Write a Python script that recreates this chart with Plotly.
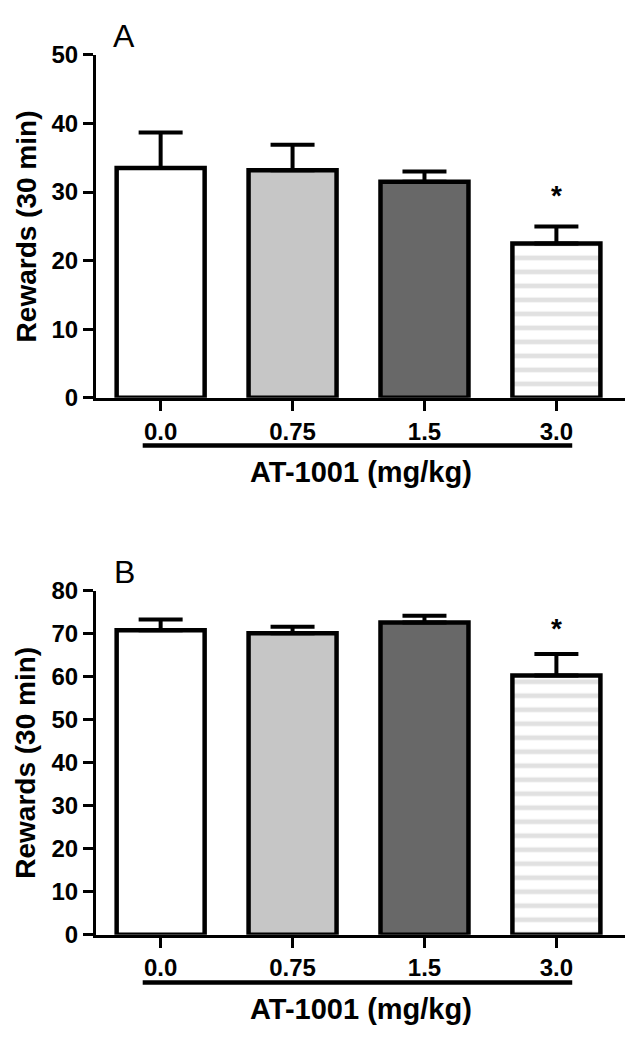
import plotly.graph_objects as go

categories = ["0.0", "0.75", "1.5", "3.0"]
bar_colors = ["#ffffff", "#c6c6c6", "#686868", "#ffffff"]

# Panel A
rewards_a = [33.5, 33.2, 31.5, 22.5]
sem_a = [5.2, 3.7, 1.5, 2.5]
star_a = 30.1

# Panel B
rewards_b = [70.8, 70.1, 72.6, 60.3]
sem_b = [2.5, 1.5, 1.6, 5.0]
star_b = 72.1

x_title = "AT-1001 (mg/kg)"
y_title = "Rewards (30 min)"

FONT = "Liberation Sans, Arial, sans-serif"
xpos = list(range(len(categories)))

fig = go.Figure()


def add_panel(vals, errs, xa, ya):
    # solid bars (first three doses)
    fig.add_trace(go.Bar(
        x=xpos[:3], y=vals[:3], width=0.667,
        xaxis=xa, yaxis=ya,
        marker=dict(color=bar_colors[:3], line=dict(color="black", width=4.5)),
        error_y=dict(type="data", array=errs[:3], arrayminus=[0] * 3,
                     symmetric=False, color="black", thickness=4, width=22),
        showlegend=False, hoverinfo="skip",
    ))
    # striped bar (highest dose)
    fig.add_trace(go.Bar(
        x=xpos[3:], y=vals[3:], width=0.667,
        xaxis=xa, yaxis=ya,
        marker=dict(
            color=bar_colors[3],
            line=dict(color="black", width=4.5),
            pattern=dict(shape="-", fgcolor="#c4c4c4", size=14, solidity=0.34),
        ),
        error_y=dict(type="data", array=errs[3:], arrayminus=[0],
                     symmetric=False, color="black", thickness=4, width=22),
        showlegend=False, hoverinfo="skip",
    ))


add_panel(rewards_a, sem_a, "x", "y")
add_panel(rewards_b, sem_b, "x2", "y2")

W, H = 640, 1048
x_dom = [96 / W, 625 / W]
ya_dom = [(H - 394) / H, (H - 42) / H]
yb_dom = [(H - 945) / H, (H - 592) / H]

common_x = dict(
    range=[-0.49, 3.52], tickvals=xpos, ticktext=categories,
    showline=True, linecolor="black", linewidth=3,
    ticks="outside", ticklen=10, tickwidth=3, tickcolor="black",
    showgrid=False, zeroline=False, fixedrange=True,
    tickfont=dict(family=FONT, size=24, color="black", weight="bold"),
)
common_y = dict(
    showline=True, linecolor="black", linewidth=3,
    ticks="outside", ticklen=10, tickwidth=3, tickcolor="black",
    showgrid=False, zeroline=False, fixedrange=True, dtick=10,
    tickfont=dict(family=FONT, size=24, color="black", weight="bold"),
)

fig.update_layout(
    width=W, height=H,
    margin=dict(l=0, r=0, t=0, b=0),
    paper_bgcolor="white", plot_bgcolor="white",
    barmode="overlay",
    xaxis=dict(domain=x_dom, anchor="y", **common_x),
    yaxis=dict(domain=ya_dom, anchor="x", range=[0, 50], **common_y),
    xaxis2=dict(domain=x_dom, anchor="y2", **common_x),
    yaxis2=dict(domain=yb_dom, anchor="x2", range=[0, 80], **common_y),
)

anns = []
shapes = []
for xr, yr, dom, letter, star in [("x", "y", ya_dom, "A", star_a), ("x2", "y2", yb_dom, "B", star_b)]:
    anns.append(dict(text=y_title, textangle=-90, xref="paper", yref=f"{yr} domain",
                     x=26 / W, y=0.5, xanchor="center", yanchor="middle", showarrow=False,
                     font=dict(family=FONT, size=28, color="black", weight="bold")))
    anns.append(dict(text=x_title, xref=f"{xr} domain", yref=f"{yr} domain",
                     x=0.5, y=-0.216, xanchor="center", yanchor="middle", showarrow=False,
                     font=dict(family=FONT, size=29, color="black", weight="bold")))
    anns.append(dict(text=letter, xref="paper", yref=f"{yr} domain",
                     x=124 / W, y=1.055, xanchor="center", yanchor="middle", showarrow=False,
                     font=dict(family=FONT, size=32, color="black")))
    anns.append(dict(text="*", xref=xr, yref=yr, x=3, y=star, xanchor="center",
                     yanchor="middle", yshift=-4, showarrow=False,
                     font=dict(family=FONT, size=28, color="black", weight="bold")))
    shapes.append(dict(type="line", xref=xr, yref=f"{yr} domain",
                       x0=-0.136, x1=3.12, y0=-0.139, y1=-0.139,
                       line=dict(color="black", width=4.5)))

fig.update_layout(annotations=anns, shapes=shapes)

fig.write_html("out.html", config={"displayModeBar": False, "staticPlot": True},
               post_script="document.body.style.margin='0';")
